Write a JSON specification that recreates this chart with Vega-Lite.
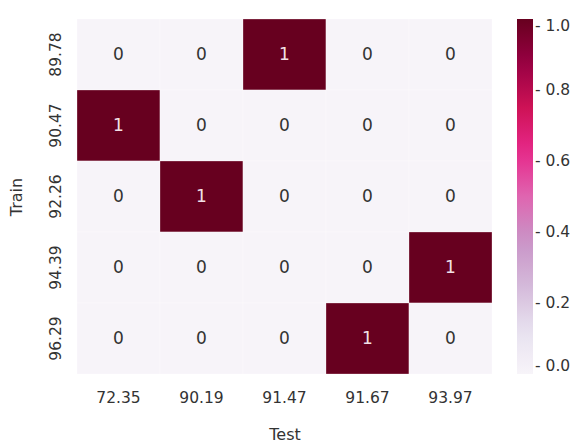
{
  "$schema": "https://vega.github.io/schema/vega-lite/v6.json",
  "width": 415,
  "height": 355,
  "autosize": "none",
  "padding": {"left": 77, "top": 19, "right": 83, "bottom": 69},
  "background": "white",
  "config": {
    "view": {"stroke": null},
    "font": "DejaVu Sans",
    "axis": {"labelFont": "DejaVu Sans", "titleFont": "DejaVu Sans", "labelColor": "#333333", "titleColor": "#333333", "titleFontWeight": "normal"},
    "legend": {"labelFont": "DejaVu Sans", "labelColor": "#333333"}
  },
  "data": {
    "values": [
      {"train": "89.78", "test": "72.35", "value": 0},
      {"train": "89.78", "test": "90.19", "value": 0},
      {"train": "89.78", "test": "91.47", "value": 1},
      {"train": "89.78", "test": "91.67", "value": 0},
      {"train": "89.78", "test": "93.97", "value": 0},
      {"train": "90.47", "test": "72.35", "value": 1},
      {"train": "90.47", "test": "90.19", "value": 0},
      {"train": "90.47", "test": "91.47", "value": 0},
      {"train": "90.47", "test": "91.67", "value": 0},
      {"train": "90.47", "test": "93.97", "value": 0},
      {"train": "92.26", "test": "72.35", "value": 0},
      {"train": "92.26", "test": "90.19", "value": 1},
      {"train": "92.26", "test": "91.47", "value": 0},
      {"train": "92.26", "test": "91.67", "value": 0},
      {"train": "92.26", "test": "93.97", "value": 0},
      {"train": "94.39", "test": "72.35", "value": 0},
      {"train": "94.39", "test": "90.19", "value": 0},
      {"train": "94.39", "test": "91.47", "value": 0},
      {"train": "94.39", "test": "91.67", "value": 0},
      {"train": "94.39", "test": "93.97", "value": 1},
      {"train": "96.29", "test": "72.35", "value": 0},
      {"train": "96.29", "test": "90.19", "value": 0},
      {"train": "96.29", "test": "91.47", "value": 0},
      {"train": "96.29", "test": "91.67", "value": 1},
      {"train": "96.29", "test": "93.97", "value": 0}
    ]
  },
  "encoding": {
    "x": {
      "field": "test", "type": "ordinal",
      "sort": ["72.35", "90.19", "91.47", "91.67", "93.97"],
      "scale": {"paddingInner": 0, "paddingOuter": 0},
      "axis": {"title": "Test", "labelAngle": 0, "labelFontSize": 15.5, "titleFontSize": 16, "ticks": false, "domain": false, "labelPadding": 16, "titlePadding": 21}
    },
    "y": {
      "field": "train", "type": "ordinal",
      "sort": ["89.78", "90.47", "92.26", "94.39", "96.29"],
      "scale": {"paddingInner": 0, "paddingOuter": 0},
      "axis": {"title": "Train", "labelAngle": -90, "labelAlign": "center", "labelBaseline": "bottom", "labelFontSize": 15.5, "titleFontSize": 16, "ticks": false, "domain": false, "labelPadding": 14, "titlePadding": 24}
    }
  },
  "layer": [
    {
      "mark": {"type": "rect", "stroke": "white", "strokeWidth": 0.3},
      "encoding": {
        "color": {
          "field": "value", "type": "quantitative",
          "scale": {
            "domain": [0, 0.125, 0.25, 0.375, 0.5, 0.625, 0.75, 0.875, 1],
            "range": ["#f7f4f9", "#e7e1ef", "#d4b9da", "#c994c7", "#df65b0", "#e7298a", "#ce1256", "#980043", "#67001f"],
            "interpolate": "rgb"
          },
          "legend": {
            "title": null,
            "orient": "right",
            "offset": 25,
            "gradientLength": 355,
            "gradientThickness": 16,
            "gradientStrokeWidth": 0,
            "values": [0, 0.2, 0.4, 0.6, 0.8, 1],
            "labelExpr": "'- ' + format(datum.value, '.1f')",
            "labelFontSize": 15.5,
            "labelOffset": 2,
            "labelFlush": false,
            "padding": 0
          }
        }
      }
    },
    {
      "mark": {"type": "text", "fontSize": 17, "font": "DejaVu Sans"},
      "encoding": {
        "text": {"field": "value", "type": "quantitative"},
        "color": {
          "condition": {"test": "datum.value > 0.5", "value": "#f2e0e6"},
          "value": "#333333"
        }
      }
    }
  ]
}
